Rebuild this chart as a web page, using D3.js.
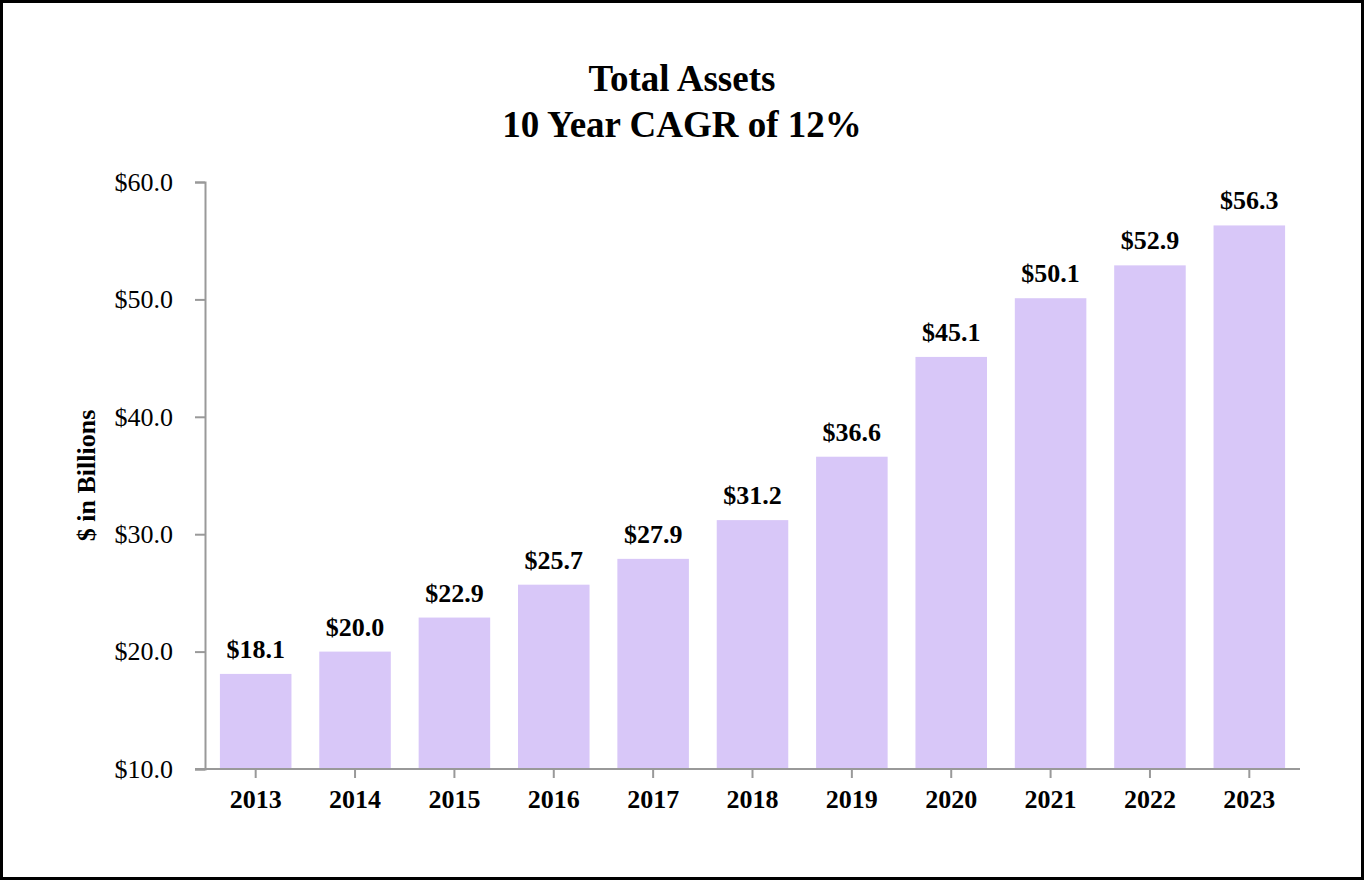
<!DOCTYPE html>
<html>
<head>
  <meta charset="utf-8">
  <script src="https://d3js.org/d3.v7.min.js"></script>
  <style>
    body { margin: 0; background: #fff; }
    svg text { font-family: "Liberation Serif", "Times New Roman", serif; fill: #000; }
  </style>
</head>
<body>
<script>
  // chart data
  var years = ["2013", "2014", "2015", "2016", "2017", "2018", "2019", "2020", "2021", "2022", "2023"];
  var assets = [18.1, 20.0, 22.9, 25.7, 27.9, 31.2, 36.6, 45.1, 50.1, 52.9, 56.3];
  var yTicks = [10, 20, 30, 40, 50, 60];
  var titleLines = ["Total Assets", "10 Year CAGR of 12%"];

  var width = 1364, height = 880;
  var plotLeft = 206, plotRight = 1299, plotTop = 182, plotBottom = 769;

  var svg = d3.select("body").append("svg")
      .attr("width", width)
      .attr("height", height);

  // outer frame
  svg.append("rect")
      .attr("x", 1.5).attr("y", 1.5)
      .attr("width", width - 3).attr("height", height - 3)
      .attr("fill", "#fff")
      .attr("stroke", "#000")
      .attr("stroke-width", 3);

  svg.selectAll("text.title")
      .data(titleLines)
    .enter().append("text")
      .attr("class", "title")
      .attr("x", 682)
      .attr("y", function(d, i) { return 91 + i * 46; })
      .attr("text-anchor", "middle")
      .style("font-size", "37px")
      .style("font-weight", "bold")
      .text(function(d) { return d; });

  var x = d3.scaleBand()
      .domain(years)
      .range([plotLeft, plotRight])
      .paddingInner(0.28)
      .paddingOuter(0.14);

  var y = d3.scaleLinear()
      .domain([10, 60])
      .range([plotBottom, plotTop]);

  // bars
  svg.selectAll("rect.bar")
      .data(assets)
    .enter().append("rect")
      .attr("class", "bar")
      .attr("x", function(d, i) { return x(years[i]); })
      .attr("y", function(d) { return y(d); })
      .attr("width", x.bandwidth())
      .attr("height", function(d) { return plotBottom - y(d); })
      .attr("fill", "#d8c7f8");

  // value labels
  svg.selectAll("text.val")
      .data(assets)
    .enter().append("text")
      .attr("class", "val")
      .attr("x", function(d, i) { return x(years[i]) + x.bandwidth() / 2; })
      .attr("y", function(d) { return y(d) - 16; })
      .attr("text-anchor", "middle")
      .style("font-size", "26px")
      .style("font-weight", "bold")
      .text(function(d) { return "$" + d.toFixed(1); });

  // y axis
  var yAxis = svg.append("g")
      .attr("transform", "translate(" + (plotLeft - 1) + ",0)")
      .call(d3.axisLeft(y).tickValues(yTicks).tickSize(10).tickPadding(22)
        .tickFormat(function(d) { return "$" + d.toFixed(1); }));
  yAxis.select(".domain").attr("stroke", "#999").attr("stroke-width", 2);
  yAxis.selectAll(".tick line").attr("stroke", "#999").attr("stroke-width", 2);
  yAxis.selectAll(".tick text").style("font-size", "26px").attr("fill", "#000");

  // x axis
  var xAxis = svg.append("g")
      .attr("transform", "translate(0," + plotBottom + ")")
      .call(d3.axisBottom(x).tickSize(9).tickSizeOuter(0).tickPadding(12));
  xAxis.select(".domain").attr("d", "M" + (plotLeft - 11) + ",0H" + (plotRight + 1))
      .attr("stroke", "#999").attr("stroke-width", 2);
  xAxis.selectAll(".tick line").attr("stroke", "#999").attr("stroke-width", 2);
  xAxis.selectAll(".tick text").style("font-size", "26px").style("font-weight", "bold").attr("fill", "#000");

  // y axis title
  svg.append("text")
      .attr("transform", "translate(95," + ((plotTop + plotBottom) / 2) + ") rotate(-90)")
      .attr("text-anchor", "middle")
      .style("font-size", "26px")
      .style("font-weight", "bold")
      .text("$ in Billions");
</script>
</body>
</html>
